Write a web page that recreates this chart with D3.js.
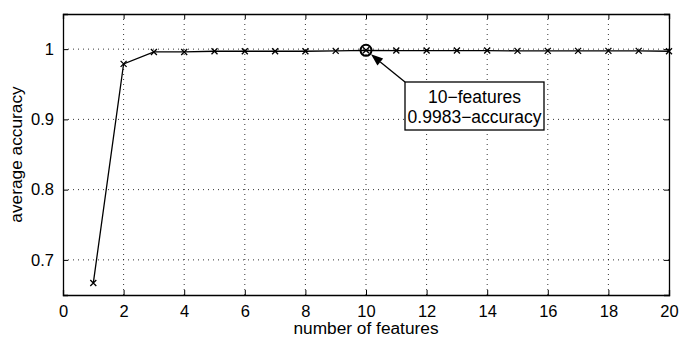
<!DOCTYPE html>
<html>
<head>
<meta charset="utf-8">
<script src="https://cdn.jsdelivr.net/npm/d3@7"></script>
<style>
  body { margin: 0; background: #fff; }
  svg text { font-family: "Liberation Sans", Arial, sans-serif; fill: #000; }
  .grid line { stroke: #000; stroke-dasharray: 1, 4; stroke-width: 0.8; }
</style>
</head>
<body>
<div id="chart"></div>
<script>
// data
const features = [1, 2, 3, 4, 5, 6, 7, 8, 9, 10, 11, 12, 13, 14, 15, 16, 17, 18, 19, 20];
const accuracy = [0.667, 0.979, 0.996, 0.996, 0.997, 0.997, 0.997, 0.997, 0.9975, 0.9983,
  0.998, 0.998, 0.998, 0.998, 0.9975, 0.9975, 0.9975, 0.9975, 0.9975, 0.997];
const xTicks = [0, 2, 4, 6, 8, 10, 12, 14, 16, 18, 20];
const yTicks = [0.7, 0.8, 0.9, 1];
const bestIndex = 9;
const noteLines = ['10\u2212features', '0.9983\u2212accuracy'];

const W = 679, H = 338;
const margin = { top: 14, right: 10, bottom: 43, left: 63 };
const width = W - margin.left - margin.right;
const height = H - margin.top - margin.bottom;
const fs = 16.5;

const svg = d3.select('#chart').append('svg')
  .attr('width', W)
  .attr('height', H);

const g = svg.append('g')
  .attr('transform', `translate(${margin.left},${margin.top})`);

const x = d3.scaleLinear().domain([0, 20]).range([0, width]);
const y = d3.scaleLinear().domain([0.65, 1.05]).range([height, 0]);

// dotted grid
g.append('g').attr('class', 'grid')
  .selectAll('line').data(xTicks.slice(1, -1)).join('line')
  .attr('x1', d => x(d)).attr('x2', d => x(d))
  .attr('y1', 0).attr('y2', height);
g.append('g').attr('class', 'grid')
  .selectAll('line').data(yTicks).join('line')
  .attr('y1', d => y(d)).attr('y2', d => y(d))
  .attr('x1', 0).attr('x2', width);

// axes, MATLAB style inward ticks
const xaxis = d3.axisBottom(x).tickValues(xTicks).tickSize(-5).tickPadding(10).tickFormat(d3.format('d'));
const yaxis = d3.axisLeft(y).tickValues(yTicks).tickSize(-5).tickPadding(9).tickFormat(d => d === 1 ? '1' : d3.format('.1f')(d));

const xg = g.append('g').attr('transform', `translate(0,${height})`).call(xaxis);
const yg = g.append('g').call(yaxis);
g.append('g').call(d3.axisTop(x).tickValues(xTicks).tickSize(-5).tickFormat(''));
g.append('g').attr('transform', `translate(${width},0)`).call(d3.axisRight(y).tickValues(yTicks).tickSize(-5).tickFormat(''));

g.selectAll('.domain').attr('stroke', '#000').attr('stroke-width', 1.3);
g.selectAll('.tick line').attr('stroke', '#000');
g.selectAll('.tick text').attr('font-size', fs).style('font-family', '"Liberation Sans", Arial, sans-serif');

// line
const pts = features.map((f, i) => ({ f: f, a: accuracy[i] }));
g.append('path')
  .datum(pts)
  .attr('fill', 'none')
  .attr('stroke', '#000')
  .attr('stroke-width', 1.3)
  .attr('d', d3.line().x(d => x(d.f)).y(d => y(d.a)));

// x markers
const s = 3;
g.selectAll('.mark').data(pts).join('path')
  .attr('class', 'mark')
  .attr('stroke', '#000')
  .attr('stroke-width', 1.3)
  .attr('d', d => {
    const cx = x(d.f), cy = y(d.a);
    return `M${cx - s},${cy - s}L${cx + s},${cy + s}M${cx - s},${cy + s}L${cx + s},${cy - s}`;
  });

// circle on best point
const best = pts[bestIndex];
g.append('circle')
  .attr('cx', x(best.f)).attr('cy', y(best.a)).attr('r', 5.5)
  .attr('fill', 'none').attr('stroke', '#000').attr('stroke-width', 2);

// annotation box + arrow
const bx = 405 - margin.left, by = 82 - margin.top, bw = 139, bh = 48;
const tipX = x(best.f) + 5, tipY = y(best.a) + 4;
const ang = Math.atan2(tipY - by, tipX - bx);
const hl = 12, hw = 4.5;
const baseX = tipX - hl * Math.cos(ang), baseY = tipY - hl * Math.sin(ang);
g.append('line')
  .attr('x1', bx).attr('y1', by).attr('x2', baseX).attr('y2', baseY)
  .attr('stroke', '#000').attr('stroke-width', 1.3);
g.append('path')
  .attr('d', `M${tipX},${tipY}L${baseX + hw * Math.sin(ang)},${baseY - hw * Math.cos(ang)}L${baseX - hw * Math.sin(ang)},${baseY + hw * Math.cos(ang)}Z`)
  .attr('fill', '#000');

g.append('rect')
  .attr('x', bx).attr('y', by).attr('width', bw).attr('height', bh)
  .attr('fill', '#fff').attr('stroke', '#000').attr('stroke-width', 1.3);
g.selectAll('.note').data(noteLines).join('text')
  .attr('class', 'note')
  .attr('x', bx + bw / 2)
  .attr('y', (d, i) => by + 21 + i * 20)
  .attr('text-anchor', 'middle')
  .attr('font-size', 17.5)
  .text(d => d);

// axis titles
svg.append('text')
  .attr('x', margin.left + width / 2)
  .attr('y', 334)
  .attr('text-anchor', 'middle')
  .attr('font-size', 17.3)
  .text('number of features');

svg.append('text')
  .attr('transform', `translate(22,${margin.top + height / 2}) rotate(-90)`)
  .attr('text-anchor', 'middle')
  .attr('font-size', 17.3)
  .text('average accuracy');
</script>
</body>
</html>
